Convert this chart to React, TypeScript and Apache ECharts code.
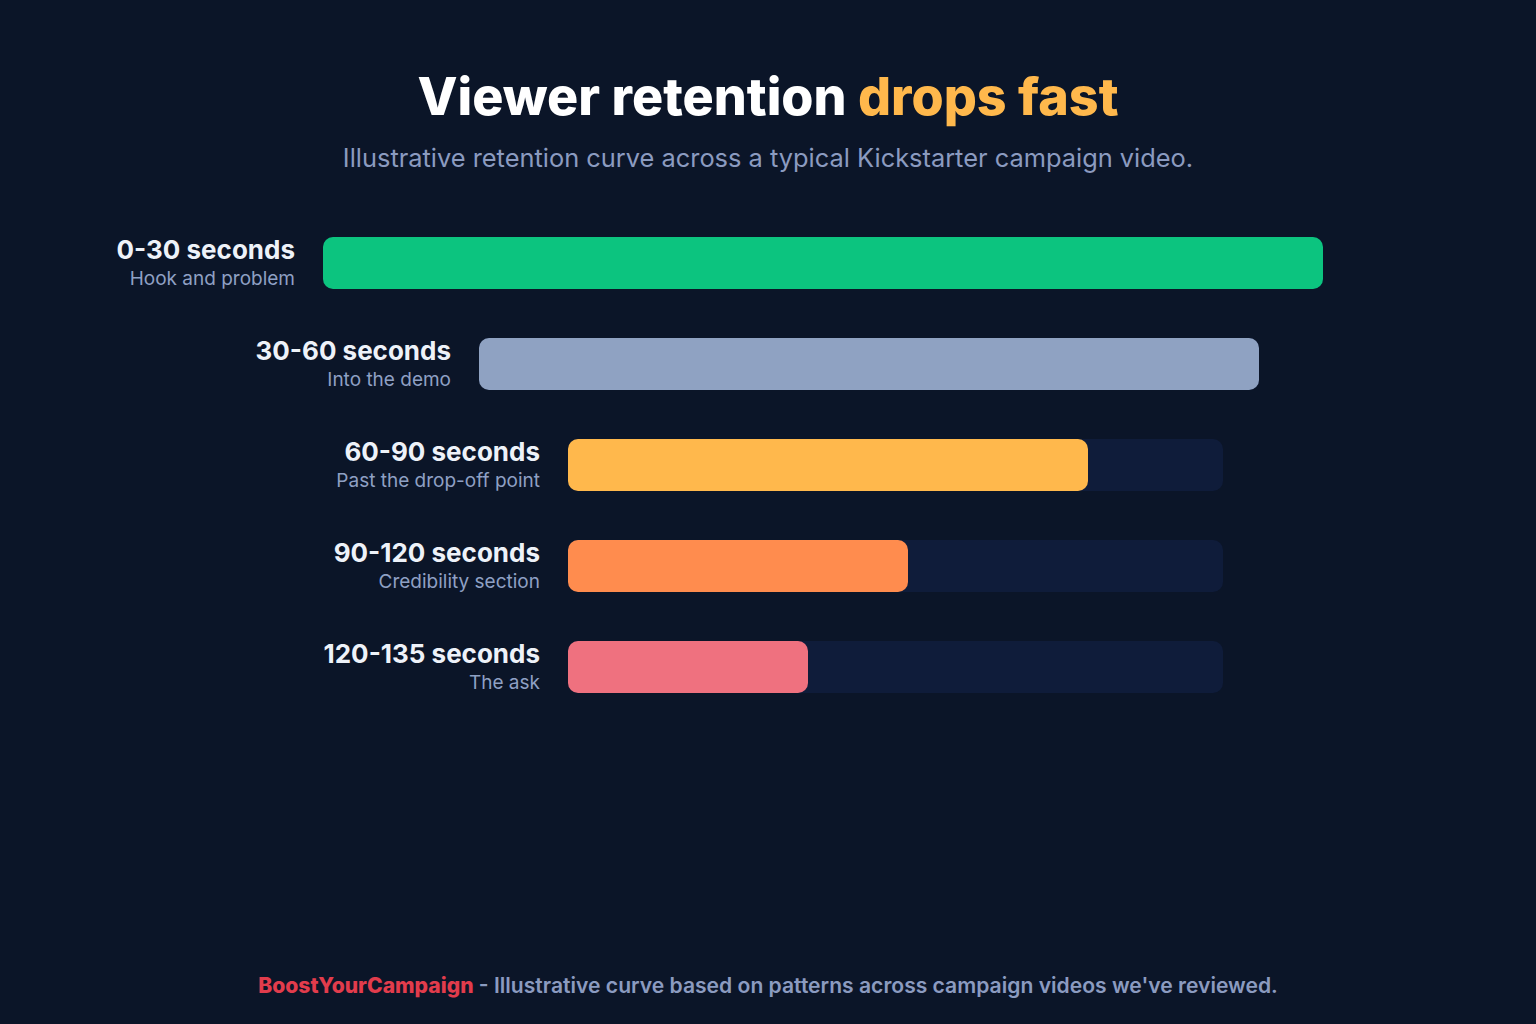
import React, { useEffect, useRef } from "react";
import * as echarts from "echarts";

const segments = ["0-30 seconds", "30-60 seconds", "60-90 seconds", "90-120 seconds", "120-135 seconds"];
const segmentNotes = ["Hook and problem", "Into the demo", "Past the drop-off point", "Credibility section", "The ask"];
const retention = [100, 78, 52, 34, 24];
const trackLength = [100, 78, 65.5, 65.5, 65.5];
const barColors = ["#0cc47f", "#8fa2c2", "#ffb84c", "#ff8c4e", "#ef717f"];

// layout: horizontal indent of each row (axis units)
const rowIndent = [0, 15.6, 24.5, 24.5, 24.5];

const BG = "#0b1528";
const FONT = "Inter, 'Noto Sans', sans-serif";

export default function App() {
  const ref = useRef<HTMLDivElement>(null);
  useEffect(() => {
    document.body.style.margin = "0";
    document.body.style.background = BG;
    const chart = echarts.init(ref.current!, null, { renderer: "svg" });
    const transparent = { color: "rgba(0,0,0,0)" };
    chart.setOption({
      animation: false,
      backgroundColor: BG,
      textStyle: { fontFamily: FONT },
      grid: { left: 323, width: 1200, top: 212.5, height: 505 },
      xAxis: { type: "value", min: 0, max: 120, show: false },
      yAxis: { type: "category", data: segments, inverse: true, show: false },
      series: [
        {
          type: "bar", stack: "track", data: rowIndent, itemStyle: transparent,
          barWidth: 52, barGap: "-100%", silent: true,
        },
        {
          type: "bar", stack: "track", data: trackLength, barWidth: 52, barGap: "-100%",
          itemStyle: { color: "#0f1c3a", borderRadius: 10 }, silent: true,
        },
        {
          type: "bar", stack: "fill", data: rowIndent, itemStyle: transparent,
          barWidth: 52, barGap: "-100%", silent: true,
        },
        {
          type: "bar", stack: "fill", barWidth: 52, barGap: "-100%",
          data: retention.map((v, i) => ({ value: v, itemStyle: { color: barColors[i], borderRadius: 10 } })),
          label: {
            show: true,
            position: "left",
            distance: 28,
            formatter: (p: any) => `{t|${segments[p.dataIndex]}}\n{s|${segmentNotes[p.dataIndex]}}`,
            rich: {
              t: { fontFamily: FONT, fontSize: 26, fontWeight: 700, color: "#eef2f9", align: "right", lineHeight: 30 },
              s: { fontFamily: FONT, fontSize: 19, color: "#8fa0c4", align: "right", lineHeight: 28 },
            },
          },
        },
      ],
      graphic: [
        {
          type: "text", x: 768, y: 96,
          style: {
            text: "{w|Viewer retention }{y|drops fast}",
            align: "center", verticalAlign: "middle",
            rich: {
              w: { fontFamily: FONT, fontSize: 52, fontWeight: 800, fill: "#ffffff" },
              y: { fontFamily: FONT, fontSize: 52, fontWeight: 800, fill: "#ffb84c" },
            },
          },
        },
        {
          type: "text", x: 768, y: 157,
          style: {
            text: "Illustrative retention curve across a typical Kickstarter campaign video.",
            align: "center", verticalAlign: "middle",
            fontFamily: FONT, fontSize: 25.4, fill: "#8b9bc0",
          },
        },
        {
          type: "text", x: 768, y: 985,
          style: {
            text: "{r|BoostYourCampaign}{g| - Illustrative curve based on patterns across campaign videos we've reviewed.}",
            align: "center", verticalAlign: "middle",
            rich: {
              r: { fontFamily: FONT, fontSize: 21.1, fontWeight: 800, fill: "#e23c4c" },
              g: { fontFamily: FONT, fontSize: 21.1, fontWeight: 600, fill: "#8b9bc0" },
            },
          },
        },
      ],
    });
    return () => chart.dispose();
  }, []);
  return <div ref={ref} style={{ width: 1536, height: 1024 }} />;
}
